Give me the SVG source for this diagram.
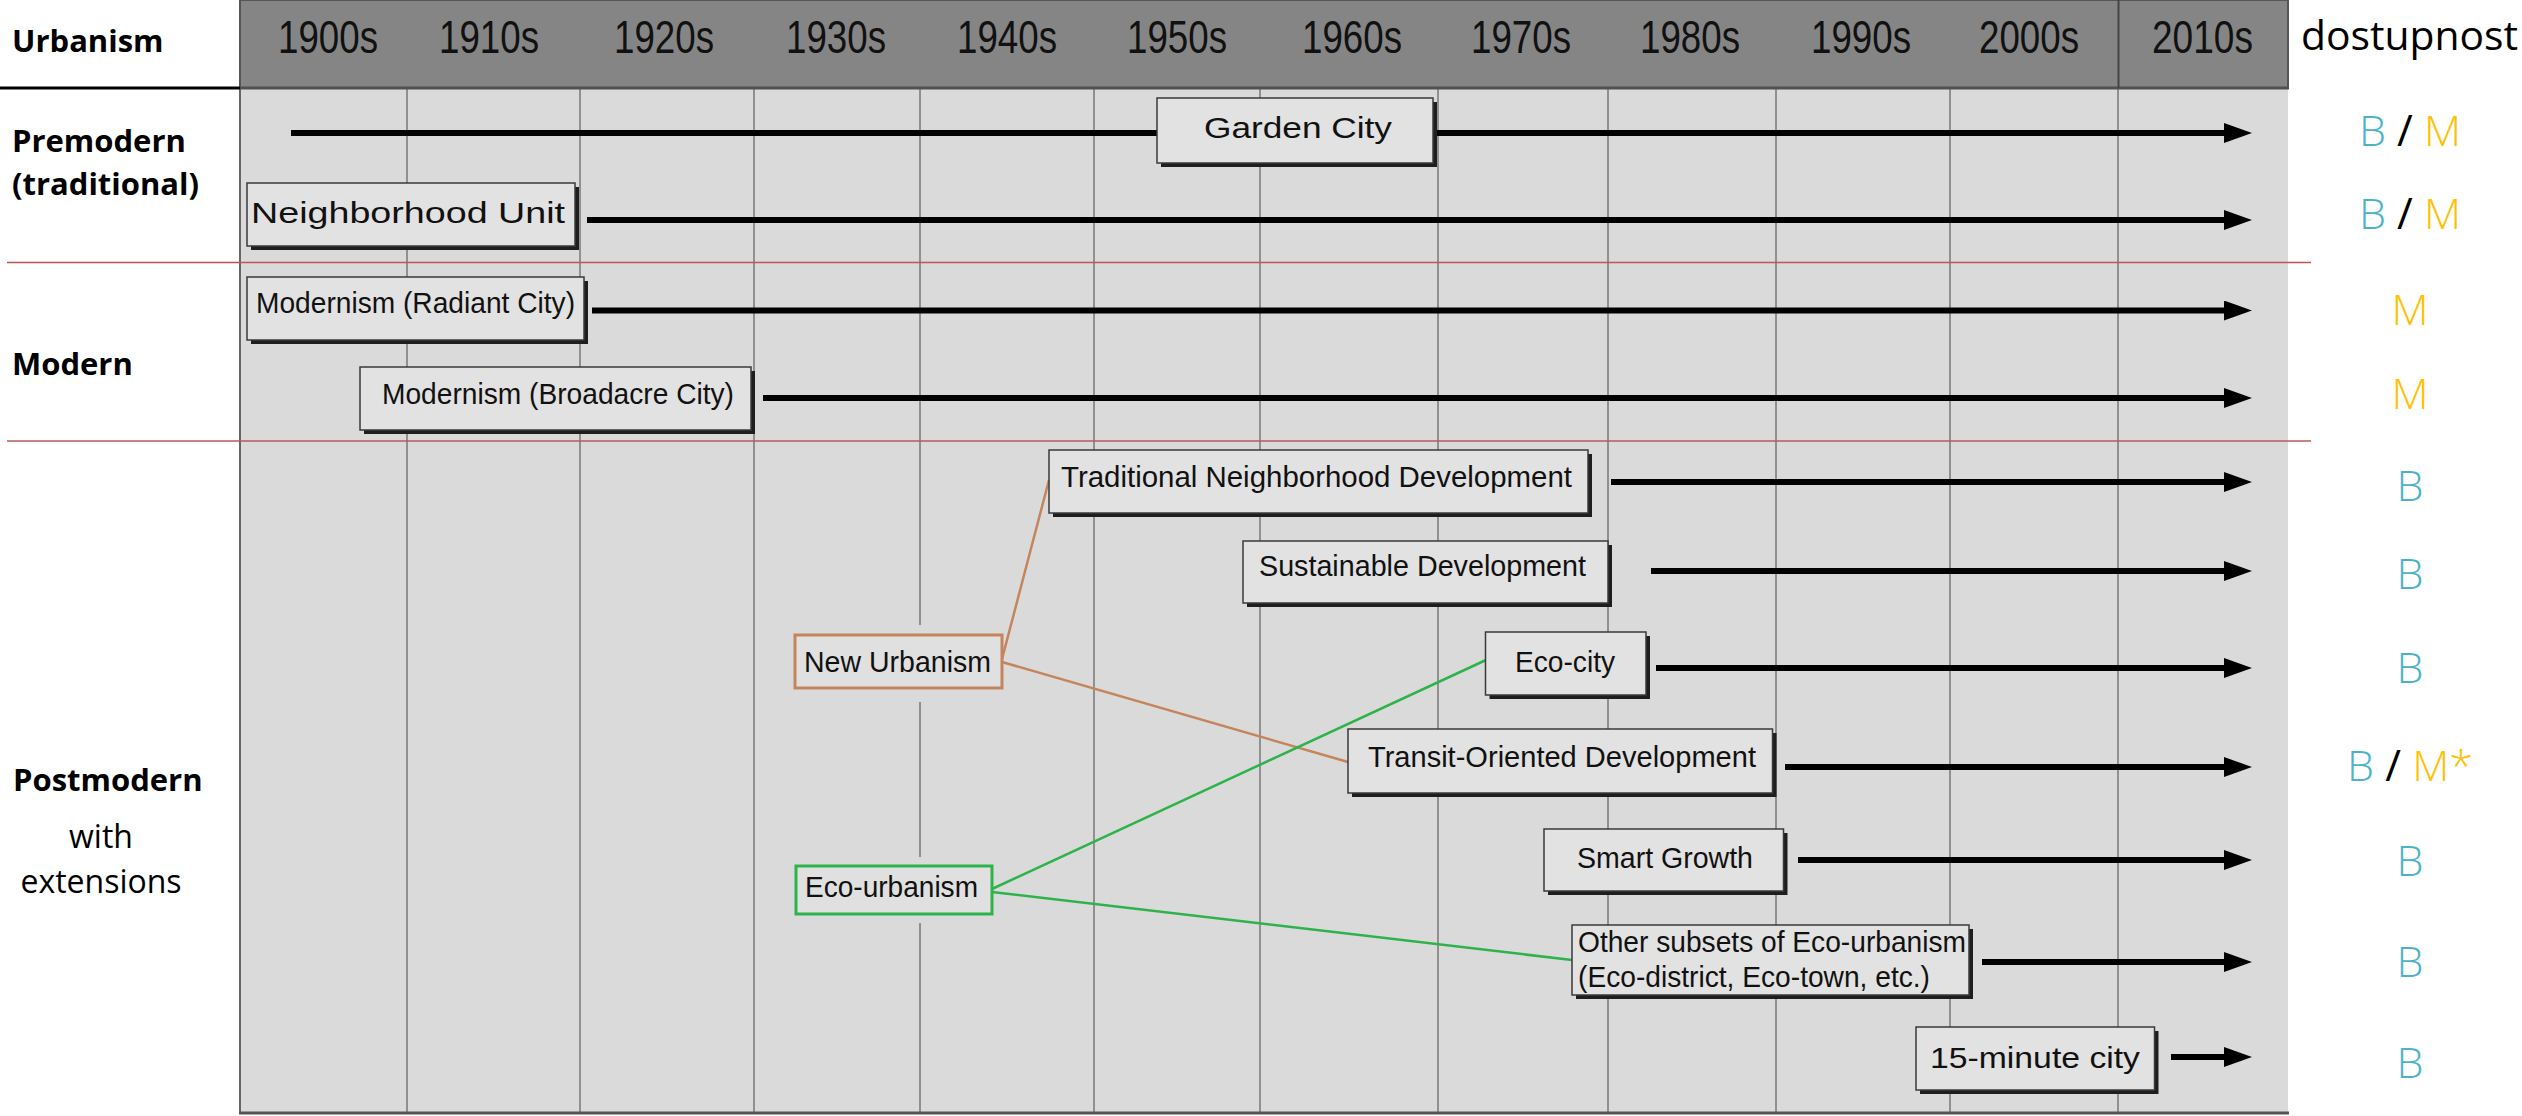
<svg xmlns="http://www.w3.org/2000/svg" width="2522" height="1116" viewBox="0 0 2522 1116">
<defs>
<style>
.dec{font-family:"Liberation Sans",Arial,sans-serif;font-size:46px;fill:#111}
.lbl{font-family:"Liberation Sans",Arial,sans-serif;font-size:30px;fill:#111}
.side{font-family:"Open Sans","Noto Sans",sans-serif;font-size:31px;font-weight:bold;fill:#000}
.sider{font-family:"Open Sans","Noto Sans",sans-serif;font-size:32px;fill:#000}
.av{font-family:"Open Sans","Noto Sans",sans-serif;font-size:43px;font-weight:300;text-anchor:middle}
.b{fill:#4bb3c8}.m{fill:#ffc000}.s{fill:#000;font-weight:400}
.box{fill:#e2e2e2;stroke:#3a3a3a;stroke-width:1.5}
.sh{fill:#1e1e1e}
.grid{stroke:#777;stroke-width:1.5}
.red{stroke:#b9585a;stroke-width:1.5}
.arr{stroke:#000;stroke-width:6;fill:none;marker-end:url(#ah)}
</style>
<marker id="ah" viewBox="0 0 28 20" markerWidth="28" markerHeight="20" refX="2" refY="10" markerUnits="userSpaceOnUse" orient="auto">
<path d="M0,0 L28,10 L0,20 z" fill="#000"/>
</marker>
</defs>
<rect width="2522" height="1116" fill="#fff"/>
<!-- grid background -->
<rect x="240" y="88" width="2048" height="1025" fill="#dadada"/>
<g id="grid">
<line class="grid" x1="407" y1="88" x2="407" y2="1113"/>
<line class="grid" x1="580" y1="88" x2="580" y2="1113"/>
<line class="grid" x1="754" y1="88" x2="754" y2="1113"/>
<line class="grid" x1="920" y1="88" x2="920" y2="1113"/>
<line class="grid" x1="1094" y1="88" x2="1094" y2="1113"/>
<line class="grid" x1="1260" y1="88" x2="1260" y2="1113"/>
<line class="grid" x1="1438" y1="88" x2="1438" y2="1113"/>
<line class="grid" x1="1608" y1="88" x2="1608" y2="1113"/>
<line class="grid" x1="1776" y1="88" x2="1776" y2="1113"/>
<line class="grid" x1="1950" y1="88" x2="1950" y2="1113"/>
<line class="grid" x1="2118" y1="88" x2="2118" y2="1113" stroke-width="2"/>
<line x1="240" y1="88" x2="240" y2="1114" stroke="#666" stroke-width="2"/>
<line x1="239" y1="1113" x2="2289" y2="1113" stroke="#555" stroke-width="3"/>
</g>
<!-- header -->
<g id="header">
<rect x="240" y="0" width="2048" height="88" fill="#858585" stroke="#555" stroke-width="2"/>
<line x1="240" y1="88" x2="2289" y2="88" stroke="#505050" stroke-width="3"/>
<line x1="2118.5" y1="0" x2="2118.5" y2="88" stroke="#444" stroke-width="2"/>
<line x1="0" y1="88" x2="240" y2="88" stroke="#000" stroke-width="3"/>
<text class="side" x="12" y="52">Urbanism</text>
<text class="dec" x="278" y="53" textLength="100" lengthAdjust="spacingAndGlyphs">1900s</text>
<text class="dec" x="439" y="53" textLength="100" lengthAdjust="spacingAndGlyphs">1910s</text>
<text class="dec" x="614" y="53" textLength="100" lengthAdjust="spacingAndGlyphs">1920s</text>
<text class="dec" x="786" y="53" textLength="100" lengthAdjust="spacingAndGlyphs">1930s</text>
<text class="dec" x="957" y="53" textLength="100" lengthAdjust="spacingAndGlyphs">1940s</text>
<text class="dec" x="1127" y="53" textLength="100" lengthAdjust="spacingAndGlyphs">1950s</text>
<text class="dec" x="1302" y="53" textLength="100" lengthAdjust="spacingAndGlyphs">1960s</text>
<text class="dec" x="1471" y="53" textLength="100" lengthAdjust="spacingAndGlyphs">1970s</text>
<text class="dec" x="1640" y="53" textLength="100" lengthAdjust="spacingAndGlyphs">1980s</text>
<text class="dec" x="1811" y="53" textLength="100" lengthAdjust="spacingAndGlyphs">1990s</text>
<text class="dec" x="1979" y="53" textLength="100" lengthAdjust="spacingAndGlyphs">2000s</text>
<text class="dec" x="2152" y="53" textLength="101" lengthAdjust="spacingAndGlyphs">2010s</text>
<text x="2301" y="50" font-family="'Open Sans','Noto Sans',sans-serif" font-size="41" fill="#000" textLength="217" lengthAdjust="spacingAndGlyphs">dostupnost</text>
</g>
<!-- section separators -->
<line class="red" x1="7" y1="262.5" x2="2311" y2="262.5"/>
<line class="red" x1="7" y1="441" x2="2311" y2="441"/>
<!-- side labels -->
<g id="side-labels">
<text class="side" x="12" y="152">Premodern</text>
<text class="side" x="12" y="195">(traditional)</text>
<text class="side" x="12" y="375">Modern</text>
<text class="side" x="13" y="791">Postmodern</text>
<text class="sider" x="101" y="848" text-anchor="middle">with</text>
<text class="sider" x="101" y="893" text-anchor="middle">extensions</text>
</g>
<!-- halos behind coloured boxes -->
<rect x="790" y="625" width="217" height="77" fill="#dadada"/>
<rect x="791" y="857" width="206" height="66" fill="#dadada"/>
<!-- connectors -->
<g id="connectors">
<line class="arr" x1="291" y1="133" x2="2226" y2="133" stroke-width="5"/>
<line class="arr" x1="587" y1="220" x2="2226" y2="220"/>
<line class="arr" x1="592" y1="310.5" x2="2226" y2="310.5"/>
<line class="arr" x1="763" y1="398" x2="2226" y2="398"/>
<line class="arr" x1="1611" y1="482" x2="2226" y2="482"/>
<line class="arr" x1="1651" y1="571" x2="2226" y2="571"/>
<line class="arr" x1="1656" y1="668" x2="2226" y2="668"/>
<line class="arr" x1="1785" y1="767" x2="2226" y2="767"/>
<line class="arr" x1="1798" y1="860" x2="2226" y2="860"/>
<line class="arr" x1="1982" y1="962" x2="2226" y2="962"/>
<line class="arr" x1="2171" y1="1057" x2="2226" y2="1057"/>
<line x1="1002" y1="659" x2="1049" y2="480" stroke="#c4855c" stroke-width="2.5"/>
<line x1="1002" y1="662" x2="1348" y2="762" stroke="#c4855c" stroke-width="2.5"/>
<line x1="992" y1="889" x2="1486" y2="660" stroke="#2db34a" stroke-width="2.5"/>
<line x1="992" y1="892" x2="1572" y2="960" stroke="#2db34a" stroke-width="2.5"/>
</g>
<!-- nodes -->
<g id="garden-city">
<rect class="sh" x="1161" y="102" width="276" height="65"/>
<rect class="box" x="1157" y="98" width="276" height="65"/>
<text class="lbl" x="1204" y="138" font-size="41" textLength="188" lengthAdjust="spacingAndGlyphs">Garden City</text>
</g>
<g id="neighborhood-unit">
<rect class="sh" x="251" y="187" width="328" height="63"/>
<rect class="box" x="247" y="183" width="328" height="63"/>
<text class="lbl" x="251" y="223" font-size="37" textLength="314" lengthAdjust="spacingAndGlyphs">Neighborhood Unit</text>
</g>
<g id="radiant-city">
<rect class="sh" x="251" y="281" width="337" height="63"/>
<rect class="box" x="247" y="277" width="337" height="63"/>
<text class="lbl" x="256" y="313" font-size="31" textLength="319" lengthAdjust="spacingAndGlyphs">Modernism (Radiant City)</text>
</g>
<g id="broadacre-city">
<rect class="sh" x="364" y="371" width="391" height="63"/>
<rect class="box" x="360" y="367" width="391" height="63"/>
<text class="lbl" x="382" y="404" font-size="31" textLength="352" lengthAdjust="spacingAndGlyphs">Modernism (Broadacre City)</text>
</g>
<g id="tnd">
<rect class="sh" x="1053" y="454" width="539" height="63"/>
<rect class="box" x="1049" y="450" width="539" height="63"/>
<text class="lbl" x="1061" y="487" font-size="30" textLength="511" lengthAdjust="spacingAndGlyphs">Traditional Neighborhood Development</text>
</g>
<g id="sustainable-development">
<rect class="sh" x="1247" y="545" width="365" height="62"/>
<rect class="box" x="1243" y="541" width="365" height="62"/>
<text class="lbl" x="1259" y="576" font-size="30" textLength="327" lengthAdjust="spacingAndGlyphs">Sustainable Development</text>
</g>
<g id="eco-city">
<rect class="sh" x="1489.5" y="636" width="160.5" height="63"/>
<rect class="box" x="1485.5" y="632" width="160.5" height="63"/>
<text class="lbl" x="1515" y="672" font-size="30" textLength="100" lengthAdjust="spacingAndGlyphs">Eco-city</text>
</g>
<g id="tod">
<rect class="sh" x="1352" y="733" width="424.5" height="64"/>
<rect class="box" x="1348" y="729" width="424.5" height="64"/>
<text class="lbl" x="1368" y="767" font-size="31" textLength="388" lengthAdjust="spacingAndGlyphs">Transit-Oriented Development</text>
</g>
<g id="smart-growth">
<rect class="sh" x="1548" y="833" width="239.5" height="62"/>
<rect class="box" x="1544" y="829" width="239.5" height="62"/>
<text class="lbl" x="1577" y="868" font-size="30" textLength="176" lengthAdjust="spacingAndGlyphs">Smart Growth</text>
</g>
<g id="other-subsets">
<rect class="sh" x="1576" y="929" width="397" height="70"/>
<rect class="box" x="1572" y="925" width="397" height="70"/>
<text class="lbl" x="1578" y="952" font-size="30" textLength="388" lengthAdjust="spacingAndGlyphs">Other subsets of Eco-urbanism</text>
<text class="lbl" x="1578" y="987" font-size="30" textLength="352" lengthAdjust="spacingAndGlyphs">(Eco-district, Eco-town, etc.)</text>
</g>
<g id="fifteen-minute-city">
<rect class="sh" x="1920" y="1031" width="238.5" height="63"/>
<rect class="box" x="1916" y="1027" width="238.5" height="63"/>
<text class="lbl" x="1930" y="1068" font-size="31" textLength="210" lengthAdjust="spacingAndGlyphs">15-minute city</text>
</g>
<g id="new-urbanism">
<rect x="795" y="635" width="207" height="53" fill="#e0e0e0" stroke="#c4855c" stroke-width="3"/>
<text class="lbl" x="804" y="672" font-size="30" textLength="187" lengthAdjust="spacingAndGlyphs">New Urbanism</text>
</g>
<g id="eco-urbanism">
<rect x="796" y="866" width="196" height="48" fill="#e0e0e0" stroke="#2db34a" stroke-width="3"/>
<text class="lbl" x="805" y="897" font-size="30" textLength="173" lengthAdjust="spacingAndGlyphs">Eco-urbanism</text>
</g>
<!-- availability column -->
<g id="availability">
<text class="av" x="2410" y="146"><tspan class="b">B</tspan><tspan class="s"> / </tspan><tspan class="m">M</tspan></text>
<text class="av" x="2410" y="229"><tspan class="b">B</tspan><tspan class="s"> / </tspan><tspan class="m">M</tspan></text>
<text class="av m" x="2410" y="325">M</text>
<text class="av m" x="2410" y="409">M</text>
<text class="av b" x="2410" y="501">B</text>
<text class="av b" x="2410" y="589">B</text>
<text class="av b" x="2410" y="683">B</text>
<text class="av" x="2410" y="781"><tspan class="b">B</tspan><tspan class="s"> / </tspan><tspan class="m">M*</tspan></text>
<text class="av b" x="2410" y="876">B</text>
<text class="av b" x="2410" y="977">B</text>
<text class="av b" x="2410" y="1078">B</text>
</g>
</svg>
